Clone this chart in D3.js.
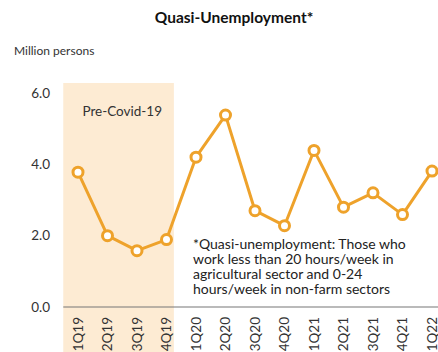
<!DOCTYPE html>
<html>
<head>
<meta charset="utf-8">
<script src="https://cdn.jsdelivr.net/npm/d3@7"></script>
<style>
  body { margin: 0; background: #fff; }
  svg { font-family: Lato, "Open Sans", sans-serif; }
</style>
</head>
<body>
<svg width="438" height="352"></svg>
<script>
// quarters and values (million persons)
const quarters = ["1Q19", "2Q19", "3Q19", "4Q19", "1Q20", "2Q20", "3Q20", "4Q20", "1Q21", "2Q21", "3Q21", "4Q21", "1Q22"];
const values = [3.78, 2.0, 1.58, 1.89, 4.2, 5.38, 2.7, 2.28, 4.39, 2.8, 3.2, 2.59, 3.81];
const yTicks = [0, 2, 4, 6];
const preCovid = ["1Q19", "4Q19"];
const noteLines = [
  "*Quasi-unemployment: Those who",
  "work less than 20 hours/week in",
  "agricultural sector and 0-24",
  "hours/week in non-farm sectors"
];

const orange = "#eea22b";
const svg = d3.select("svg");

const x = d3.scalePoint().domain(quarters).range([78, 432]);
const y = d3.scaleLinear().domain([0, 6]).range([307, 93]);
const step = x.step();

// pre-covid shaded band
svg.append("rect")
  .attr("x", x(preCovid[0]) - step / 2)
  .attr("y", y(6) - 10)
  .attr("width", x(preCovid[1]) - x(preCovid[0]) + step / 2 + step / 4)
  .attr("height", 352 - (y(6) - 10))
  .attr("fill", "#fdebd3");

svg.append("text")
  .attr("x", (x(preCovid[0]) + x(preCovid[1])) / 2)
  .attr("y", 116)
  .attr("text-anchor", "middle")
  .attr("font-size", 13.5)
  .attr("fill", "#333")
  .text("Pre-Covid-19");

// title
svg.append("text")
  .attr("x", 234)
  .attr("y", 23)
  .attr("text-anchor", "middle")
  .attr("font-size", 15.5)
  .attr("font-weight", "bold")
  .attr("fill", "#111")
  .text("Quasi-Unemployment*");

svg.append("text")
  .attr("x", 14)
  .attr("y", 55)
  .attr("font-size", 12)
  .attr("fill", "#333")
  .text("Million persons");

// y tick labels
svg.selectAll(".ytick")
  .data(yTicks)
  .enter()
  .append("text")
  .attr("class", "ytick")
  .attr("x", 50)
  .attr("y", d => y(d))
  .attr("dy", "0.35em")
  .attr("text-anchor", "end")
  .attr("font-size", 13.5)
  .attr("fill", "#333")
  .text(d => d.toFixed(1));

// baseline
svg.append("line")
  .attr("x1", x(quarters[0]) - step / 2)
  .attr("x2", 438)
  .attr("y1", y(0))
  .attr("y2", y(0))
  .attr("stroke", "#777")
  .attr("stroke-width", 1.2);

// x labels, rotated
svg.selectAll(".xlab")
  .data(quarters)
  .enter()
  .append("text")
  .attr("class", "xlab")
  .attr("transform", d => "translate(" + x(d) + ",317) rotate(-90)")
  .attr("dy", "0.35em")
  .attr("text-anchor", "end")
  .attr("font-size", 13.5)
  .attr("fill", "#333")
  .text(d => d);

// note
svg.append("text")
  .attr("font-size", 14)
  .attr("fill", "#222")
  .selectAll("tspan")
  .data(noteLines)
  .enter()
  .append("tspan")
  .attr("x", 193)
  .attr("y", (d, i) => 249 + i * 15)
  .text(d => d);

// line + markers
const line = d3.line()
  .x((d, i) => x(quarters[i]))
  .y(d => y(d));

svg.append("path")
  .datum(values)
  .attr("d", line)
  .attr("fill", "none")
  .attr("stroke", orange)
  .attr("stroke-width", 3)
  .attr("stroke-linejoin", "round");

svg.selectAll(".dot")
  .data(values)
  .enter()
  .append("circle")
  .attr("class", "dot")
  .attr("cx", (d, i) => x(quarters[i]))
  .attr("cy", d => y(d))
  .attr("r", 5)
  .attr("fill", "#fff")
  .attr("stroke", orange)
  .attr("stroke-width", 3);
</script>
</body>
</html>
